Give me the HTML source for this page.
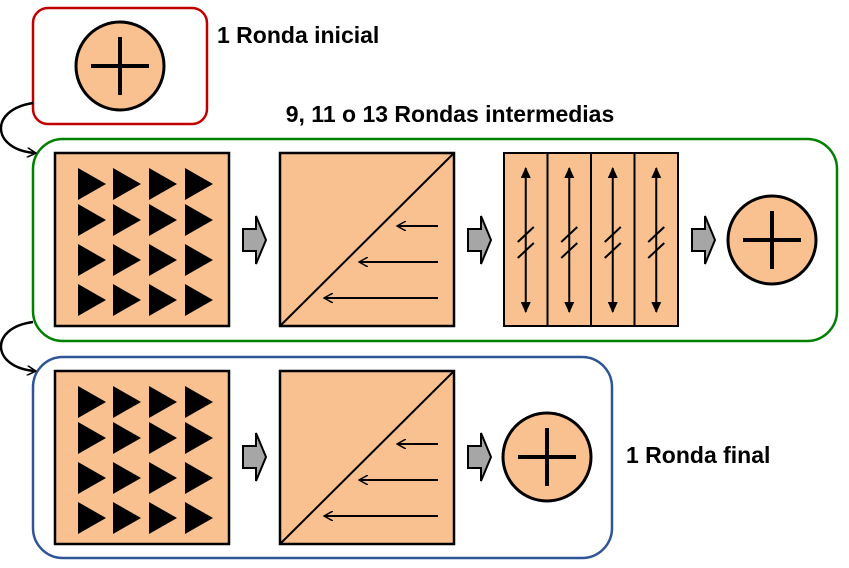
<!DOCTYPE html>
<html><head><meta charset="utf-8"><style>
body{margin:0;background:#fff}
svg{display:block;font-family:"Liberation Sans",sans-serif}
</style></head><body>
<svg id="d" width="849" height="568" viewBox="0 0 849 568">
<defs>
<marker id="ah" markerWidth="10" markerHeight="10" refX="8" refY="5" orient="auto" markerUnits="userSpaceOnUse"><path d="M0,0 L9,5 L0,10" fill="none" stroke="#000" stroke-width="1.5"/></marker>
<marker id="fa" markerWidth="12" markerHeight="10" refX="10" refY="5" orient="auto" markerUnits="userSpaceOnUse"><path d="M0,0 L11,5 L0,10 Z" fill="#000"/></marker>
</defs>
<rect x="33" y="8" width="174" height="116" rx="15" fill="#fff" stroke="#c00000" stroke-width="2.5"/>
<text x="217" y="43" font-size="23" font-weight="bold">1 Ronda inicial</text>
<rect x="33" y="139" width="804" height="202" rx="30" fill="#fff" stroke="#008000" stroke-width="2.5"/>
<text x="450" y="122" font-size="23" font-weight="bold" text-anchor="middle">9, 11 o 13 Rondas intermedias</text>
<rect x="33" y="357" width="579" height="201" rx="30" fill="#fff" stroke="#2f5597" stroke-width="2.5"/>
<text x="626" y="463" font-size="23" font-weight="bold">1 Ronda final</text>
<path d="M33,103 C-12,110 -8,150 35,153" fill="none" stroke="#000" stroke-width="2.5" marker-end="url(#ah)"/>
<path d="M33,322 C-12,328 -8,368 35,371" fill="none" stroke="#000" stroke-width="2.5" marker-end="url(#ah)"/>
<g id="g"></g>
</svg>
<script>
const NS="http://www.w3.org/2000/svg";
const g=document.getElementById('g');
function el(t,a){const e=document.createElementNS(NS,t);for(const k in a)e.setAttribute(k,a[k]);g.appendChild(e);return e;}
const F="#f9c090";
function sub(x,y){
 const r=el('rect',{x:x,y:y,width:174,height:173,fill:F,stroke:'#000','stroke-width':2.5});
 
 
 const cols=[78,113,149,185],rows=[31,67,107,147];
 rows.forEach(ry=>cols.forEach(cx=>{
  const t=el('polygon',{points:`${cx},${y+ry-16} ${cx+28},${y+ry} ${cx},${y+ry+16}`,fill:'#000'});
  
  
 }));
}
function shift(x,y){
 const r=el('rect',{x:x,y:y,width:174,height:173,fill:F,stroke:'#000','stroke-width':2.5});
 
 
 el('line',{x1:x,y1:y+173,x2:x+174,y2:y,stroke:'#000','stroke-width':2});
 [[73,118],[109,80],[145,45]].forEach(([dy,x2])=>{
  const l=el('line',{x1:x+158,y1:y+dy,x2:x+x2,y2:y+dy,stroke:'#000','stroke-width':2,'marker-end':'url(#ah)'});
  
  
 });
}
function garrow(cx,cy){
 const a=el('polygon',{points:`${cx-11},${cy-11} ${cx+2},${cy-11} ${cx+2},${cy-24} ${cx+12},${cy} ${cx+2},${cy+24} ${cx+2},${cy+11} ${cx-11},${cy+11}`,fill:'#a6a6a6',stroke:'#000','stroke-width':2});
 
 
}
function add(cx,cy){
 const c=el('circle',{cx:cx,cy:cy,r:44,fill:F,stroke:'#000','stroke-width':3});
 
 
 el('line',{x1:cx-29,y1:cy,x2:cx+29,y2:cy,stroke:'#000','stroke-width':4});
 el('line',{x1:cx,y1:cy-29,x2:cx,y2:cy+29,stroke:'#000','stroke-width':4});
}
function mix(x,y){
 for(let i=0;i<4;i++){
  const cx=x+i*43.5;
  const r=el('rect',{x:cx,y:y,width:43.5,height:173,fill:F,stroke:'#000','stroke-width':2});
  
  
  const m=cx+21.75;
  const l=el('line',{x1:m,y1:y+87,x2:m,y2:y+15,stroke:'#000','stroke-width':2,'marker-end':'url(#fa)'});
  
  
  el('line',{x1:m,y1:y+87,x2:m,y2:y+159,stroke:'#000','stroke-width':2,'marker-end':'url(#fa)'});
  el('line',{x1:m-8,y1:y+89,x2:m+8,y2:y+74,stroke:'#000','stroke-width':2});
  el('line',{x1:m-8,y1:y+105,x2:m+8,y2:y+90,stroke:'#000','stroke-width':2});
 }
}
add(120,66);
sub(55,153);garrow(254,240);shift(280,153);garrow(479,240);mix(504,153);garrow(703,240);add(772,240);
sub(55,371);garrow(254,457);shift(280,371);garrow(479,457);add(547,457);
</script>
</body></html>
